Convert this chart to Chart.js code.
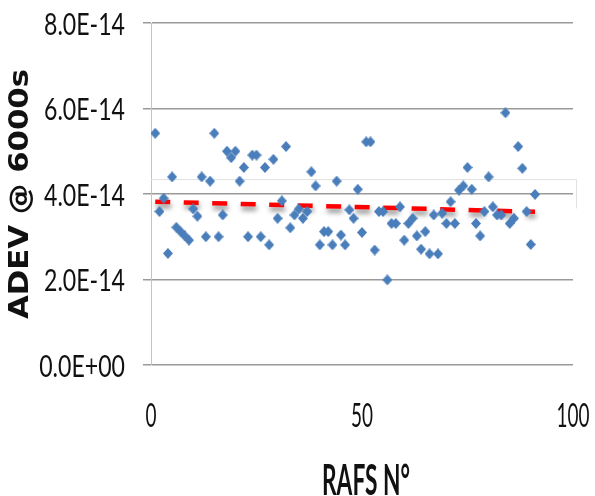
<!DOCTYPE html>
<html>
<head>
<meta charset="utf-8">
<script src="https://cdn.jsdelivr.net/npm/chart.js@4/dist/chart.umd.min.js"></script>
<style>
    html, body { margin: 0; padding: 0; background: #fff; }
    #wrap { width: 595px; height: 496px; position: relative; }
</style>
</head>
<body>
<div id="wrap"><canvas id="adevChart"></canvas></div>
<script>
// ADEV @ 6000s per RAFS unit, in units of 1E-14
const UNIT = 1e-14;
const rafsNo = [
    1, 2, 3, 4, 5, 6, 7, 8, 9, 10, 11, 12, 13, 14, 15, 16, 17, 18, 19, 20,
    21, 22, 23, 24, 25, 26, 27, 28, 29, 30, 31, 32, 33, 34, 35, 36, 37, 38, 39, 40,
    41, 42, 43, 44, 45, 46, 47, 48, 49, 50, 51, 52, 53, 54, 55, 56, 57, 58, 59, 60,
    61, 62, 63, 64, 65, 66, 67, 68, 69, 70, 71, 72, 73, 74, 75, 76, 77, 78, 79, 80,
    81, 82, 83, 84, 85, 86, 87, 88, 89, 90, 91
];
const adev = [
    5.42, 3.59, 3.90, 2.61, 4.40, 3.22, 3.12, 3.02, 2.92, 3.65,
    3.48, 4.40, 3.00, 4.30, 5.42, 3.00, 3.51, 5.00, 4.85, 5.00,
    4.30, 4.62, 3.00, 4.91, 4.91, 3.00, 4.62, 2.81, 4.81, 3.43,
    3.84, 5.11, 3.21, 3.51, 3.65, 3.43, 3.59, 4.52, 4.19, 2.81,
    3.12, 3.12, 2.81, 4.30, 3.04, 2.81, 3.63, 3.43, 4.11, 3.10,
    5.22, 5.22, 2.69, 3.59, 3.59, 1.99, 3.31, 3.31, 3.70, 2.92,
    3.31, 3.43, 3.02, 2.71, 3.12, 2.60, 3.51, 2.60, 3.55, 3.31,
    3.82, 3.31, 4.09, 4.19, 4.62, 4.11, 3.31, 3.02, 3.59, 4.40,
    3.70, 3.51, 3.51, 5.90, 3.31, 3.43, 5.11, 4.60, 3.59, 2.82,
    3.99
];
// linear trend drawn as the red dashed line
const trendX = [1, 91];
const trendY = [3.82, 3.585];

const yTicks = [0, 2, 4, 6, 8];
const xTicks = [0, 50, 100];

// Excel style diamond, slightly taller than wide
function makeDiamond(w, h, color) {
    const c = document.createElement('canvas');
    c.width = w;
    c.height = h;
    const g = c.getContext('2d');
    g.fillStyle = color;
    g.beginPath();
    g.moveTo(w / 2, 0);
    g.lineTo(w, h / 2);
    g.lineTo(w / 2, h);
    g.lineTo(0, h / 2);
    g.closePath();
    g.fill();
    return c;
}

function sciLabel(v) {
    if (Math.abs(v) < 1e-30) return '0.0E+00';
    const e = Math.floor(Math.log10(Math.abs(v)) + 1e-9);
    const m = (v / Math.pow(10, e)).toFixed(1);
    const sign = e < 0 ? '-' : '+';
    return m + 'E' + sign + String(Math.abs(e)).padStart(2, '0');
}

// scale factors so that a sample string gets a given width and cap height
function fitFactors(ctx, sample, width, height) {
    const m = ctx.measureText(sample);
    return { sx: width / m.width, sy: height / m.actualBoundingBoxAscent };
}

function drawScaled(ctx, text, x, y, f, rot) {
    ctx.save();
    ctx.translate(x, y);
    if (rot) ctx.rotate(rot);
    ctx.scale(f.sx, f.sy);
    ctx.fillText(text, 0, 0);
    ctx.restore();
}

// faint box around the 4E-14 line, as in the source image
const faintBox = {
    id: 'faintBox',
    beforeDatasetsDraw(chart) {
        const { ctx, chartArea, scales } = chart;
        const top = scales.y.getPixelForValue(4.35 * UNIT);
        const bottom = scales.y.getPixelForValue(3.67 * UNIT);
        ctx.save();
        ctx.strokeStyle = '#e2e2e2';
        ctx.lineWidth = 1;
        ctx.beginPath();
        ctx.moveTo(chartArea.left, Math.round(top) + 0.5);
        ctx.lineTo(chartArea.right + 3.5, Math.round(top) + 0.5);
        ctx.lineTo(chartArea.right + 3.5, Math.round(bottom) + 0.5);
        ctx.stroke();
        ctx.restore();
    }
};

// soft shadow under the trend line
const trendShadow = {
    id: 'trendShadow',
    beforeDatasetDraw(chart, args) {
        if (args.index !== 1) return;
        const ctx = chart.ctx;
        ctx.save();
        ctx.shadowColor = 'rgba(0, 0, 0, 0.45)';
        ctx.shadowBlur = 5;
        ctx.shadowOffsetX = 1;
        ctx.shadowOffsetY = 4;
    },
    afterDatasetDraw(chart, args) {
        if (args.index !== 1) return;
        chart.ctx.restore();
    }
};

// tick labels and titles, stretched tall and narrow like the source
const stretchedText = {
    id: 'stretchedText',
    afterDraw(chart) {
        const { ctx, chartArea, scales } = chart;
        ctx.save();
        ctx.fillStyle = '#111';
        ctx.textBaseline = 'alphabetic';

        ctx.font = '28px Lato, "Liberation Sans", sans-serif';
        ctx.textAlign = 'right';
        let f = fitFactors(ctx, '8.0E-14', 81, 23);
        scales.y.ticks.forEach(t => {
            drawScaled(ctx, sciLabel(t.value), chartArea.left - 26, scales.y.getPixelForValue(t.value) + 11.5, f);
        });

        ctx.textAlign = 'center';
        f = fitFactors(ctx, '100', 33, 25);
        scales.x.ticks.forEach(t => {
            drawScaled(ctx, String(t.value), scales.x.getPixelForValue(t.value), chartArea.bottom + 62, f);
        });

        ctx.font = 'bold 28px Lato, "Liberation Sans", sans-serif';
        f = fitFactors(ctx, 'RAFS N°', 88, 32);
        drawScaled(ctx, 'RAFS N°', (chartArea.left + chartArea.right) / 2 + 4, chartArea.bottom + 130, f);

        ctx.font = 'bold 28px "DejaVu Sans", sans-serif';
        const g = fitFactors(ctx, 'ADEV @ 6000s', 250, 20);
        g.sy = 20 / ctx.measureText('ADEV').actualBoundingBoxAscent;
        drawScaled(ctx, 'ADEV @ 6000s', 28, (chartArea.top + chartArea.bottom) / 2, g, -Math.PI / 2);
        ctx.restore();
    }
};

const diamond = makeDiamond(10, 11, '#4a7ebb');

new Chart(document.getElementById('adevChart'), {
    type: 'scatter',
    data: {
        datasets: [
            {
                label: 'ADEV @ 6000s',
                data: rafsNo.map((n, i) => ({ x: n, y: adev[i] * UNIT })),
                pointStyle: diamond,
                pointRadius: 5,
                pointHoverRadius: 5
            },
            {
                label: 'Trend',
                data: trendX.map((n, i) => ({ x: n, y: trendY[i] * UNIT })),
                showLine: true,
                borderColor: '#ff0000',
                borderWidth: 4.5,
                borderDash: [15, 13.5],
                borderCapStyle: 'butt',
                pointRadius: 0,
                fill: false
            }
        ]
    },
    options: {
        responsive: true,
        maintainAspectRatio: false,
        animation: false,
        layout: {
            padding: { left: 143, right: 22, top: 23, bottom: 131 }
        },
        plugins: {
            legend: { display: false },
            tooltip: { enabled: false }
        },
        scales: {
            x: {
                type: 'linear',
                min: 0,
                max: 100,
                afterBuildTicks: scale => { scale.ticks = xTicks.map(v => ({ value: v })); },
                ticks: { display: false },
                grid: { display: false, drawTicks: false },
                border: { display: false }
            },
            y: {
                type: 'linear',
                min: 0,
                max: 8 * UNIT,
                afterBuildTicks: scale => { scale.ticks = yTicks.map(v => ({ value: v * UNIT })); },
                ticks: { display: false },
                grid: {
                    color: '#9a9a9a',
                    lineWidth: 1.5,
                    drawTicks: true,
                    tickLength: 8
                },
                border: { display: true, color: '#c4c4c4', width: 1 }
            }
        }
    },
    plugins: [faintBox, trendShadow, stretchedText]
});
</script>
</body>
</html>
